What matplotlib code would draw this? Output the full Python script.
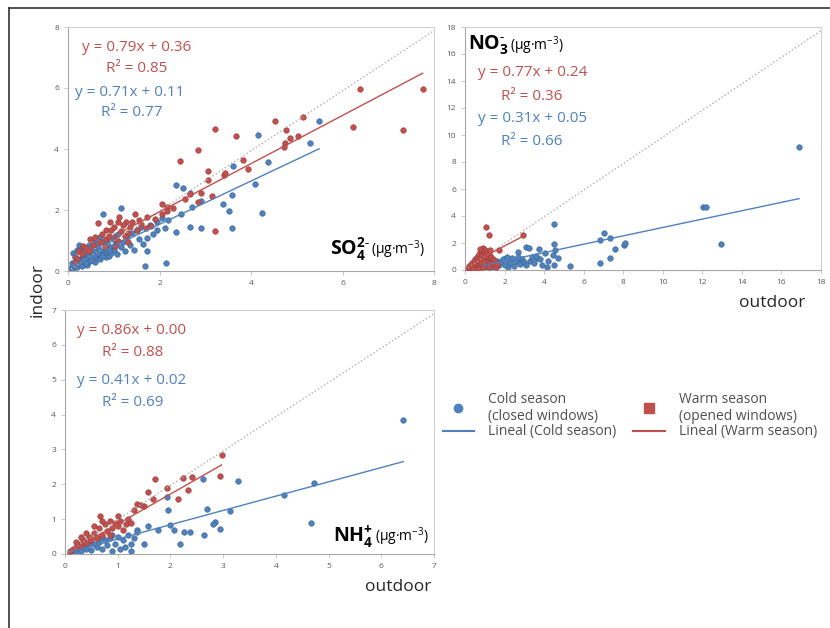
import matplotlib

matplotlib.use("Agg")
import matplotlib.pyplot as plt
from matplotlib.lines import Line2D

plt.rcParams["font.family"] = ["Open Sans", "DejaVu Sans"]
plt.rcParams["mathtext.fontset"] = "custom"
plt.rcParams["mathtext.rm"] = "Open Sans"
plt.rcParams["mathtext.bf"] = "Open Sans:bold"

BLUE = "#4F81BD"
RED = "#C0504D"
GREY_TXT = "#595959"

# ---- SO4 (indoor vs outdoor, ug/m3) ----
so4_cold_x = [5.49, 5.28, 4.16, 4.38, 4.09, 4.23, 3.61, 3.59, 3.38, 3.52, 3.59, 2.37, 2.52, 2.66,
              2.90, 2.72, 2.47, 2.18, 2.66, 2.90, 2.37, 2.12, 1.94, 1.73, 1.73, 1.68, 2.14, 1.15,
              0.76, 1.02, 0.05, 0.08, 0.10, 0.12, 0.15, 0.18, 0.20, 0.22, 0.23, 0.25, 0.28, 0.30,
              0.32, 0.35, 0.38, 0.40, 0.42, 0.45, 0.48, 0.50, 0.52, 0.55, 0.58, 0.60, 0.62, 0.65,
              0.68, 0.70, 0.72, 0.75, 0.78, 0.80, 0.82, 0.85, 0.88, 0.90, 0.92, 0.95, 0.98, 1.00,
              1.05, 1.08, 1.10, 1.15, 1.20, 1.25, 1.30, 1.35, 1.40, 1.45, 1.50, 1.55, 1.60, 1.65,
              1.80, 1.85, 1.95, 2.05, 0.20, 0.30, 0.45, 0.15, 0.60, 0.70, 0.85, 0.35, 0.55, 0.65,
              0.75, 0.90, 1.00, 0.40, 0.50]
so4_cold_y = [4.93, 4.19, 4.46, 3.58, 2.85, 1.91, 3.44, 2.50, 2.20, 1.98, 1.41, 2.82, 2.71, 2.55,
              2.28, 2.11, 1.88, 1.67, 1.45, 1.40, 1.29, 1.40, 1.35, 1.09, 0.65, 0.16, 0.25, 2.08,
              1.86, 1.15, 0.10, 0.25, 0.05, 0.58, 0.18, 0.30, 0.12, 0.40, 0.85, 0.22, 0.35, 0.15,
              0.48, 0.28, 0.60, 0.38, 0.20, 0.50, 0.32, 0.70, 0.42, 0.55, 0.30, 0.62, 0.45, 0.80,
              0.52, 0.38, 0.65, 0.95, 0.55, 0.72, 0.45, 0.62, 0.85, 0.50, 0.75, 0.60, 1.05, 0.70,
              0.88, 0.55, 1.20, 0.78, 0.95, 0.65, 1.10, 0.85, 1.25, 0.70, 1.35, 1.05, 1.45, 0.90,
              1.50, 1.20, 1.60, 1.75, 0.70, 0.75, 0.85, 0.45, 0.95, 1.10, 1.00, 0.40, 0.65, 0.58,
              0.48, 0.68, 0.82, 0.25, 0.35]
so4_warm_x = [6.38, 7.75, 6.22, 7.33, 4.52, 5.13, 4.77, 5.03, 4.74, 4.72, 4.85, 3.21, 3.67, 2.85,
              2.45, 3.83, 3.93, 3.07, 3.40, 3.44, 3.07, 2.90, 3.14, 3.21, 2.66, 2.85, 2.16, 2.16,
              2.06, 2.30, 2.55, 0.66, 0.84, 1.09, 1.27, 1.56, 1.32, 0.84, 0.48, 1.02, 0.33, 1.31,
              1.82, 2.06, 1.73, 1.11, 0.91, 1.46, 0.40, 0.55, 0.60, 0.70, 0.75, 0.90, 0.95, 1.00,
              1.05, 1.15, 1.20, 1.25, 1.35, 1.40, 1.50, 1.60, 1.70, 1.90, 0.25, 0.30, 0.45, 0.80,
              1.10, 0.20, 0.15]
so4_warm_y = [5.96, 5.98, 4.73, 4.62, 4.93, 5.06, 4.62, 4.43, 4.20, 4.07, 4.35, 4.64, 4.44, 3.97,
              3.61, 3.64, 3.34, 3.29, 3.15, 3.20, 3.00, 2.55, 2.47, 1.31, 2.53, 2.27, 2.11, 1.97,
              2.19, 2.05, 2.35, 1.56, 1.34, 1.62, 1.62, 1.67, 1.24, 1.06, 1.04, 0.83, 0.83, 0.94,
              1.47, 1.88, 1.77, 1.78, 1.62, 1.88, 0.75, 0.85, 1.10, 0.95, 1.20, 1.15, 1.35, 1.45,
              1.05, 1.30, 1.50, 1.15, 1.45, 1.60, 1.35, 1.55, 1.40, 1.70, 0.65, 0.55, 0.65, 0.80,
              1.00, 0.40, 0.30]

# ---- NO3 ----
no3_cold_x = [16.89, 12.01, 12.20, 12.94, 4.51, 3.09, 4.49, 7.02, 6.84, 7.34, 7.59, 8.02, 8.10,
              7.33, 6.83, 5.29, 4.51, 4.46, 4.70, 4.05, 3.72, 3.22, 3.64, 2.66, 2.73, 2.07, 2.15,
              4.13, 4.55, 1.20, 1.30, 1.40, 1.50, 1.60, 1.70, 1.80, 1.90, 2.00, 2.20, 2.30, 2.40,
              2.50, 2.60, 2.80, 2.90, 3.00, 3.10, 3.30, 3.40, 3.50, 3.80, 3.90, 4.20, 1.10, 1.00,
              0.90, 2.10, 2.70, 3.60]
no3_cold_y = [9.13, 4.69, 4.69, 1.90, 3.41, 1.73, 1.90, 2.76, 2.22, 2.35, 1.53, 1.85, 1.98,
              0.86, 0.49, 0.32, 0.37, 1.11, 0.86, 1.23, 1.53, 1.60, 0.86, 1.36, 0.74, 0.86, 0.25,
              0.25, 1.45, 0.30, 0.55, 0.20, 0.45, 0.70, 0.35, 0.60, 0.80, 0.40, 0.70, 0.50, 0.90,
              0.30, 0.65, 0.45, 0.85, 0.60, 0.35, 0.70, 0.95, 0.55, 0.80, 0.40, 0.70, 0.15, 0.40,
              0.25, 1.00, 1.00, 1.05]
no3_warm_x = [1.07, 1.21, 2.94, 1.70, 0.15, 0.20, 0.25, 0.30, 0.35, 0.40, 0.45, 0.50, 0.55, 0.55,
              0.60, 0.65, 0.70, 0.70, 0.75, 0.80, 0.80, 0.85, 0.90, 0.90, 0.95, 1.00, 1.00, 1.05,
              1.10, 1.10, 1.15, 1.20, 1.25, 1.30, 1.35, 1.40, 1.45, 1.50, 1.55, 1.60, 0.40, 0.65,
              1.20, 0.75, 0.95, 1.25]
no3_warm_y = [3.21, 2.59, 2.59, 1.48, 0.10, 0.30, 0.15, 0.45, 0.25, 0.60, 0.35, 0.80, 0.50, 0.15,
              1.00, 0.70, 1.20, 0.35, 0.90, 1.40, 0.55, 1.10, 1.60, 0.25, 1.30, 0.80, 1.50, 1.05,
              1.35, 0.45, 0.65, 1.20, 0.90, 1.00, 0.60, 0.80, 0.40, 0.65, 0.25, 0.45, 0.10, 0.05,
              0.20, 1.55, 0.60, 1.45]

# ---- NH4 ----
nh4_cold_x = [6.42, 4.72, 4.16, 4.66, 3.29, 2.61, 3.13, 2.69, 2.85, 2.94, 2.63, 2.37, 2.25, 2.06,
              2.19, 1.93, 1.96, 2.00, 1.58, 1.77, 1.36, 1.36, 1.49, 1.26, 1.14, 2.80, 0.10, 0.15,
              0.20, 0.25, 0.30, 0.35, 0.40, 0.45, 0.50, 0.55, 0.60, 0.65, 0.70, 0.75, 0.80, 0.85,
              0.90, 0.95, 1.00, 1.05, 1.10, 1.20, 1.25, 1.30, 0.60, 0.70, 0.90]
nh4_cold_y = [3.84, 2.03, 1.69, 0.90, 2.10, 2.14, 1.24, 1.30, 0.93, 0.73, 0.54, 0.64, 0.64, 0.69,
              0.30, 1.64, 1.26, 0.83, 0.80, 0.70, 0.70, 0.62, 0.30, 0.30, 0.20, 0.85, 0.05, 0.12,
              0.08, 0.18, 0.10, 0.22, 0.15, 0.28, 0.12, 0.30, 0.20, 0.35, 0.15, 0.40, 0.25, 0.45,
              0.10, 0.30, 0.50, 0.15, 0.40, 0.55, 0.10, 0.45, 0.45, 0.50, 0.55]
nh4_warm_x = [2.97, 2.94, 2.40, 2.24, 2.34, 2.15, 1.93, 1.71, 1.58, 1.67, 1.49, 1.36, 1.30, 1.00,
              0.66, 1.45, 0.10, 0.15, 0.20, 0.25, 0.30, 0.35, 0.40, 0.45, 0.50, 0.55, 0.60, 0.65,
              0.70, 0.75, 0.80, 0.85, 0.90, 0.95, 1.00, 1.05, 1.10, 1.15, 1.20, 0.40, 0.55, 0.70,
              0.20, 0.30, 0.85, 1.25]
nh4_warm_y = [2.84, 2.23, 2.20, 2.17, 1.83, 1.59, 1.90, 2.14, 1.79, 1.59, 1.37, 1.43, 1.26, 1.08,
              1.09, 1.40, 0.08, 0.15, 0.20, 0.30, 0.22, 0.40, 0.32, 0.50, 0.40, 0.60, 0.45, 0.75,
              0.55, 0.85, 0.65, 0.95, 0.75, 0.90, 0.80, 0.95, 0.70, 0.85, 1.00, 0.60, 0.80, 0.95,
              0.35, 0.50, 0.55, 0.90]

# fitted lines: slope, intercept, r2 and x span of each trend line
panels = ["SO4", "NO3", "NH4"]
axis_max = [8, 18, 7]
warm_slope = [0.79, 0.77, 0.86]
warm_icpt = [0.36, 0.24, 0.00]
warm_r2 = [0.85, 0.36, 0.88]
warm_span = [(0.1, 7.75), (0.15, 2.94), (0.1, 2.97)]
cold_slope = [0.71, 0.31, 0.41]
cold_icpt = [0.11, 0.05, 0.02]
cold_r2 = [0.77, 0.66, 0.69]
cold_span = [(0.05, 5.49), (0.9, 16.89), (0.1, 6.42)]

data = {
    "SO4": (so4_cold_x, so4_cold_y, so4_warm_x, so4_warm_y),
    "NO3": (no3_cold_x, no3_cold_y, no3_warm_x, no3_warm_y),
    "NH4": (nh4_cold_x, nh4_cold_y, nh4_warm_x, nh4_warm_y),
}

W, H = 830, 628
fig = plt.figure(figsize=(W / 100, H / 100), dpi=100)


def px_rect(left, top, right, bottom):
    return [left / W, 1 - bottom / H, (right - left) / W, (bottom - top) / H]


rects = [px_rect(68, 27, 434, 271), px_rect(465, 27, 821, 270), px_rect(65, 310, 434, 554)]
# text anchors in axes fractions: red eq, red r2, blue eq, blue r2
eq_pos = [
    [(0.038, 0.918), (0.104, 0.828), (0.019, 0.730), (0.090, 0.648)],
    [(0.036, 0.812), (0.102, 0.716), (0.036, 0.622), (0.102, 0.530)],
    [(0.032, 0.918), (0.100, 0.824), (0.032, 0.713), (0.100, 0.619)],
]

axes = []
for i, name in enumerate(panels):
    ax = fig.add_axes(rects[i])
    axes.append(ax)
    cx, cy, wx, wy = data[name]
    m = axis_max[i]
    ax.scatter(cx, cy, s=16, color=BLUE, edgecolors="#3A6496", linewidths=0.4, zorder=2)
    ax.scatter(wx, wy, s=16, color=RED, edgecolors="#9A3A37", linewidths=0.4, zorder=3)
    ax.plot([0, m], [0, m * 0.985], color="#ADADAD", ls=":", lw=1.0, zorder=4)
    x0, x1 = warm_span[i]
    ax.plot([x0, x1], [warm_slope[i] * x0 + warm_icpt[i], warm_slope[i] * x1 + warm_icpt[i]],
            color=RED, lw=1.0, zorder=4)
    x0, x1 = cold_span[i]
    ax.plot([x0, x1], [cold_slope[i] * x0 + cold_icpt[i], cold_slope[i] * x1 + cold_icpt[i]],
            color=BLUE, lw=1.0, zorder=4)
    ax.set_xlim(0, m)
    ax.set_ylim(0, m)
    step = 1 if m == 7 else 2
    ax.set_xticks(range(0, m + 1, step))
    ax.set_yticks(range(0, m + 1, step))
    ax.tick_params(labelsize=6, colors=GREY_TXT, length=3, width=0.6, color="#BFBFBF")
    for sp in ax.spines.values():
        sp.set_color("#D0D0D0")
        sp.set_linewidth(0.8)
    ax.spines["left"].set_color("#A6A6A6")
    ax.spines["bottom"].set_color("#A6A6A6")
    p = eq_pos[i]
    ax.text(*p[0], f"y = {warm_slope[i]:.2f}x + {warm_icpt[i]:.2f}", color=RED, fontsize=11,
            transform=ax.transAxes, va="center")
    ax.text(*p[1], f"R² = {warm_r2[i]:.2f}", color=RED, fontsize=11, transform=ax.transAxes,
            va="center")
    ax.text(*p[2], f"y = {cold_slope[i]:.2f}x + {cold_icpt[i]:.2f}", color=BLUE, fontsize=11,
            transform=ax.transAxes, va="center")
    ax.text(*p[3], f"R² = {cold_r2[i]:.2f}", color=BLUE, fontsize=11, transform=ax.transAxes,
            va="center")

# species labels: bold formula followed by smaller unit text
units = "(µg·m$^{-3}$)"
u1 = axes[0].text(0.975, 0.088, units, fontsize=10, color="black", ha="right", va="center",
                  transform=axes[0].transAxes)
axes[0].annotate(r"$\mathbf{SO_4^{2\text{-}}}$", xy=(-0.02, 0.5), xycoords=u1, fontsize=14,
                 ha="right", va="center")
u2 = axes[1].text(0.125, 0.925, units, fontsize=10, color="black", ha="left", va="center",
                  transform=axes[1].transAxes)
axes[1].annotate(r"$\mathbf{NO_3^{\text{-}}}$", xy=(-0.02, 0.5), xycoords=u2, fontsize=14,
                 ha="right", va="center")
u3 = axes[2].text(0.985, 0.072, units, fontsize=10, color="black", ha="right", va="center",
                  transform=axes[2].transAxes)
axes[2].annotate(r"$\mathbf{NH_4^{+}}$", xy=(-0.02, 0.5), xycoords=u3, fontsize=14,
                 ha="right", va="center")

fig.text(38 / W, 1 - 290 / H, "indoor", rotation=90, fontsize=12.5, color="#262626",
         ha="center", va="center")
fig.text(772 / W, 1 - 303 / H, "outdoor", fontsize=12.5, color="#262626", ha="center", va="center")
fig.text(398 / W, 1 - 587 / H, "outdoor", fontsize=12.5, color="#262626", ha="center", va="center")

handles = [
    Line2D([], [], ls="none", marker="o", ms=6, color=BLUE),
    Line2D([], [], color=BLUE, lw=1.5),
    Line2D([], [], ls="none", marker="s", ms=7, color=RED),
    Line2D([], [], color=RED, lw=1.5),
]
labels = ["Cold season\n(closed windows)", "Lineal (Cold season)",
          "Warm season\n(opened windows)", "Lineal (Warm season)"]
leg = fig.legend(handles, labels, ncol=2, loc="upper left", bbox_to_anchor=(430 / W, 1 - 379 / H),
                 frameon=False, fontsize=10, handlelength=2.3, handletextpad=1.0,
                 columnspacing=1.2, labelspacing=0.05)
for t in leg.get_texts():
    t.set_color("#505050")

# outer frame (top and left edges)
fig.add_artist(Line2D([9 / W, 9 / W], [0, 1 - 8 / H], color="#333333", lw=1.2))
fig.add_artist(Line2D([9 / W, 1], [1 - 8 / H, 1 - 8 / H], color="#333333", lw=1.2))

fig.savefig("out.png", dpi=100)
